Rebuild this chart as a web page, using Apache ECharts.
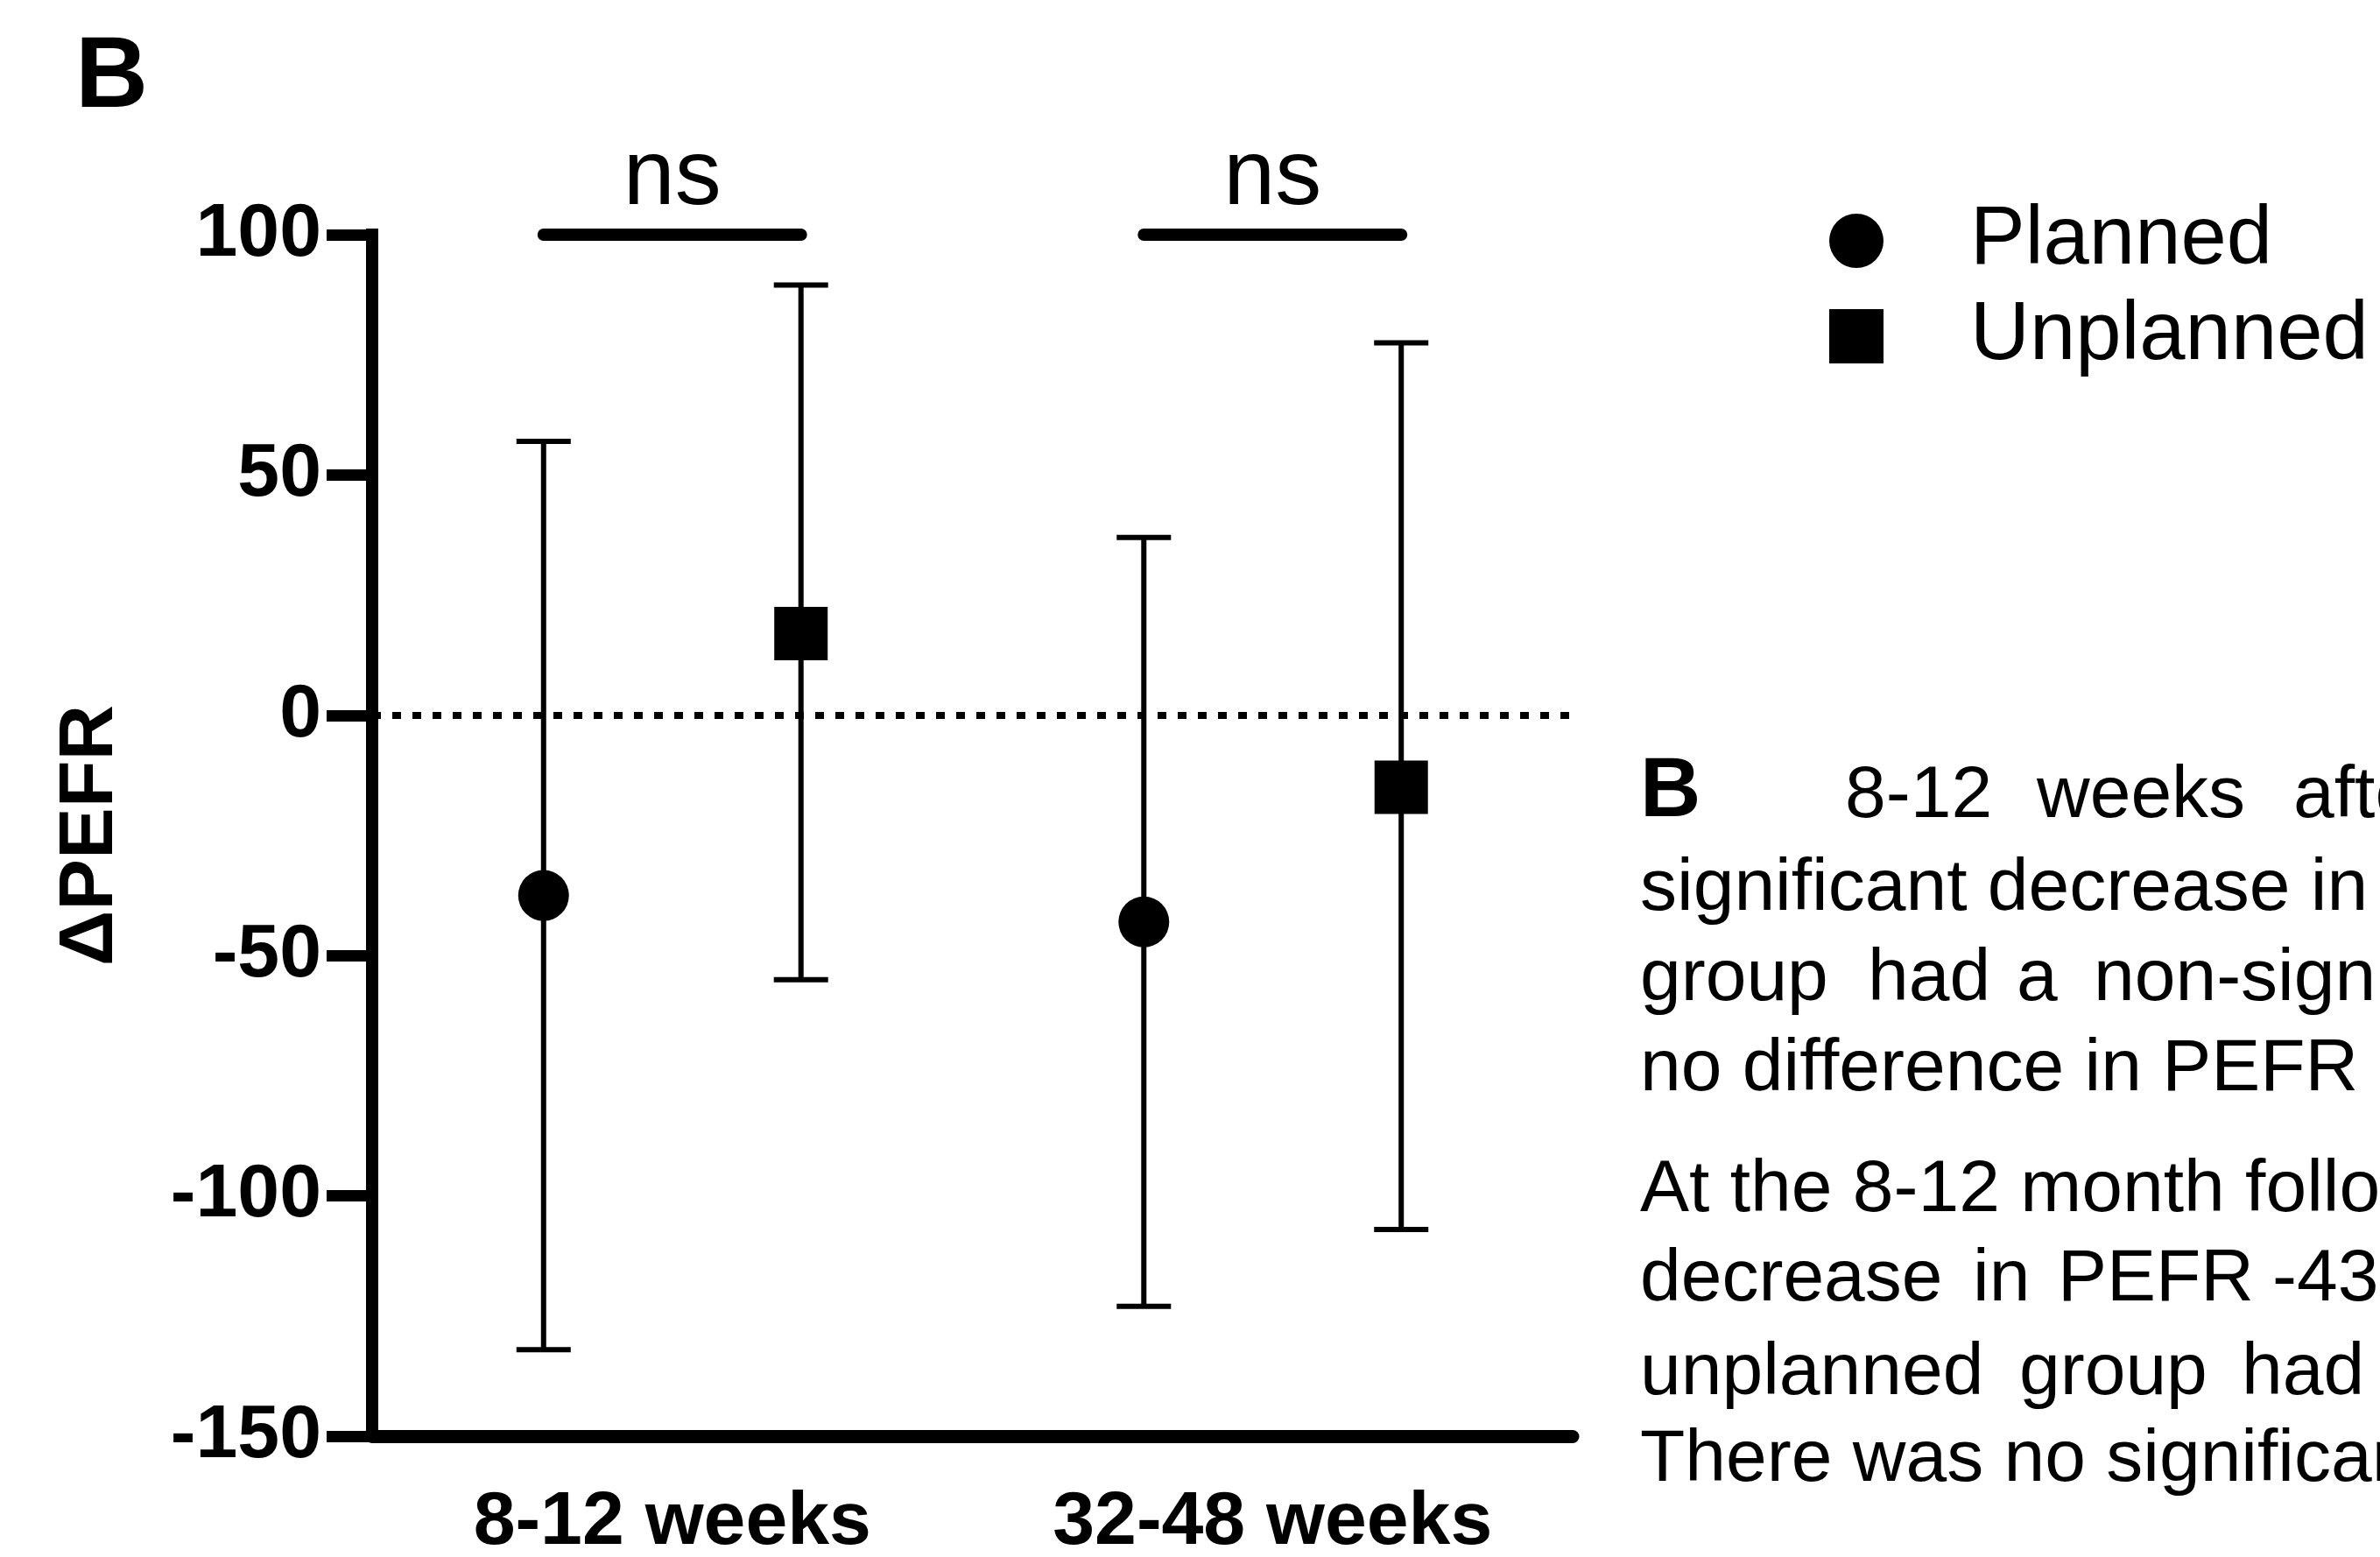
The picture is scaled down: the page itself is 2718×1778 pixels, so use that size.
<!DOCTYPE html>
<html>
<head>
<meta charset="utf-8">
<title>PEFR change, planned vs unplanned</title>
<script src="https://cdn.jsdelivr.net/npm/echarts@6/dist/echarts.min.js"></script>
<style>
  html, body { margin: 0; padding: 0; background: #fff; }
  #chart { width: 2718px; height: 1778px; }
</style>
</head>
<body>
<div id="chart"></div>
<script>
// timepoints and groups
const categories = ["8-12 weeks", "32-48 weeks"];
const groups = ["Planned", "Unplanned"];

// mean change in PEFR and the ends of the error bars
const plannedMean = [-37.5, -43];
const plannedLow = [-132, -123];
const plannedHigh = [57, 37];
const unplannedMean = [17, -15];
const unplannedLow = [-55, -107];
const unplannedHigh = [89.5, 77.5];

// significance brackets
const sigLabels = ["ns", "ns"];
const sigLevel = [100, 100];

// y axis ticks
const yMin = -150;
const yMax = 100;
const yStep = 50;

const FONT = '"Liberation Sans", Arial, sans-serif';
const OFF = 0.2144; // side shift of each group inside a timepoint (category units)

// caption next to the graph, cut by the right edge like the source page
const captionLines = [
  { y: 910, words: [["8-12", 2107], ["weeks", 2326], ["after", 2619]] },
  { y: 1016, words: [["significant decrease in", 1873]] },
  { y: 1119, words: [["group", 1873], ["had", 2133], ["a", 2303], ["non-significant", 2391]] },
  { y: 1222, words: [["no difference in PEFR", 1873]] },
  { y: 1360, words: [["At the 8-12 month follow", 1873]] },
  { y: 1462, words: [["decrease", 1873], ["in", 2253], ["PEFR", 2350], ["-43", 2595]] },
  { y: 1569, words: [["unplanned", 1873], ["group", 2306], ["had", 2560]] },
  { y: 1668, words: [["There was no significant", 1873]] }
];

const chart = echarts.init(document.getElementById("chart"));

function pointData(means, off) {
  return categories.map((c, i) => [i + 0.5 + off, means[i]]);
}

function errorBars(name, lows, highs, off) {
  return {
    type: "custom",
    name: name + " range",
    xAxisIndex: 1,
    yAxisIndex: 0,
    silent: true,
    clip: false,
    z: 2,
    data: categories.map((c, i) => [i + 0.5 + off, lows[i], highs[i]]),
    encode: { x: 0, y: [1, 2] },
    renderItem(params, api) {
      const x = api.value(0);
      const top = api.coord([x, api.value(2)]);
      const bot = api.coord([x, api.value(1)]);
      const hw = 31;
      const st = { stroke: "#000", lineWidth: 6 };
      return {
        type: "group",
        children: [
          { type: "line", shape: { x1: top[0], y1: top[1], x2: bot[0], y2: bot[1] }, style: st },
          { type: "line", shape: { x1: top[0] - hw, y1: top[1], x2: top[0] + hw, y2: top[1] }, style: st },
          { type: "line", shape: { x1: bot[0] - hw, y1: bot[1], x2: bot[0] + hw, y2: bot[1] }, style: st }
        ]
      };
    }
  };
}

const graphics = [];
graphics.push({
  type: "text", x: 1873, y: 906,
  style: { text: "B", fontSize: 96, fontWeight: "bold", fontFamily: FONT, fill: "#000", verticalAlign: "middle" }
});
captionLines.forEach(line => {
  line.words.forEach(w => {
    graphics.push({
      type: "text", x: w[1], y: line.y,
      style: { text: w[0], fontSize: 84, fontFamily: FONT, fill: "#000", verticalAlign: "middle" }
    });
  });
});

const option = {
  backgroundColor: "#fff",
  animation: false,
  title: {
    text: "B", left: 86, top: 33, padding: 0,
    textStyle: { fontSize: 115, fontWeight: "bold", color: "#000", fontFamily: FONT }
  },
  legend: {
    data: groups,
    orient: "vertical",
    left: 2084,
    top: 223,
    itemWidth: 62,
    itemHeight: 62,
    itemGap: 15,
    selectedMode: false,
    itemStyle: { opacity: 1 },
    textStyle: { fontSize: 94, fontFamily: FONT, color: "#000", padding: [0, 0, 0, 94], lineHeight: 62 }
  },
  grid: { left: 425, right: 922, top: 268, bottom: 138, containLabel: false, outerBoundsMode: "none" },
  xAxis: [
    {
      type: "category",
      data: categories,
      boundaryGap: true,
      axisLine: { onZero: false, lineStyle: { color: "#000", width: 15 } },
      axisTick: { alignWithLabel: true, length: 51, lineStyle: { color: "#000", width: 13 } },
      axisLabel: { fontSize: 86, fontWeight: "bold", color: "#000", margin: 56, fontFamily: FONT },
      splitLine: { show: false }
    },
    { type: "value", min: 0, max: 2, show: false }
  ],
  yAxis: {
    type: "value",
    min: yMin,
    max: yMax,
    interval: yStep,
    name: "\u0394PEFR",
    nameLocation: "middle",
    nameRotate: 90,
    nameGap: 277,
    nameTextStyle: { fontSize: 88, fontWeight: "bold", color: "#000", fontFamily: FONT },
    axisLine: { show: true, onZero: false, lineStyle: { color: "#000", width: 14, cap: "square" } },
    axisTick: { show: true, length: 52, lineStyle: { color: "#000", width: 13 } },
    axisLabel: { fontSize: 86, fontWeight: "bold", color: "#000", margin: 58, fontFamily: FONT },
    splitLine: { show: false }
  },
  graphic: graphics,
  series: [
    errorBars("Planned", plannedLow, plannedHigh, -OFF),
    errorBars("Unplanned", unplannedLow, unplannedHigh, OFF),
    {
      type: "scatter",
      name: "Planned",
      xAxisIndex: 1,
      symbol: "circle",
      symbolSize: 58,
      itemStyle: { color: "#000", opacity: 1 },
      z: 3,
      data: pointData(plannedMean, -OFF),
      markLine: {
        silent: true,
        symbol: ["none", "none"],
        label: { show: false },
        lineStyle: { color: "#000", width: 8, type: [10, 13], opacity: 1 },
        data: [{ yAxis: 0 }]
      }
    },
    {
      type: "scatter",
      name: "Unplanned",
      xAxisIndex: 1,
      symbol: "rect",
      symbolSize: 61,
      itemStyle: { color: "#000", opacity: 1 },
      z: 3,
      data: pointData(unplannedMean, OFF)
    },
    {
      type: "custom",
      name: "significance",
      xAxisIndex: 1,
      silent: true,
      clip: false,
      data: categories.map((c, i) => [i + 0.5, sigLevel[i]]),
      renderItem(params, api) {
        const i = params.dataIndex;
        const a = api.coord([api.value(0) - OFF, api.value(1)]);
        const b = api.coord([api.value(0) + OFF, api.value(1)]);
        return {
          type: "group",
          children: [
            { type: "line", shape: { x1: a[0], y1: a[1], x2: b[0], y2: b[1] },
              style: { stroke: "#000", lineWidth: 14, lineCap: "round" } },
            { type: "text", x: (a[0] + b[0]) / 2, y: a[1] - 64,
              style: { text: sigLabels[i], fontSize: 106, fontFamily: FONT, fill: "#000",
                       align: "center", verticalAlign: "middle" } }
          ]
        };
      }
    }
  ]
};

chart.setOption(option);
</script>
</body>
</html>
